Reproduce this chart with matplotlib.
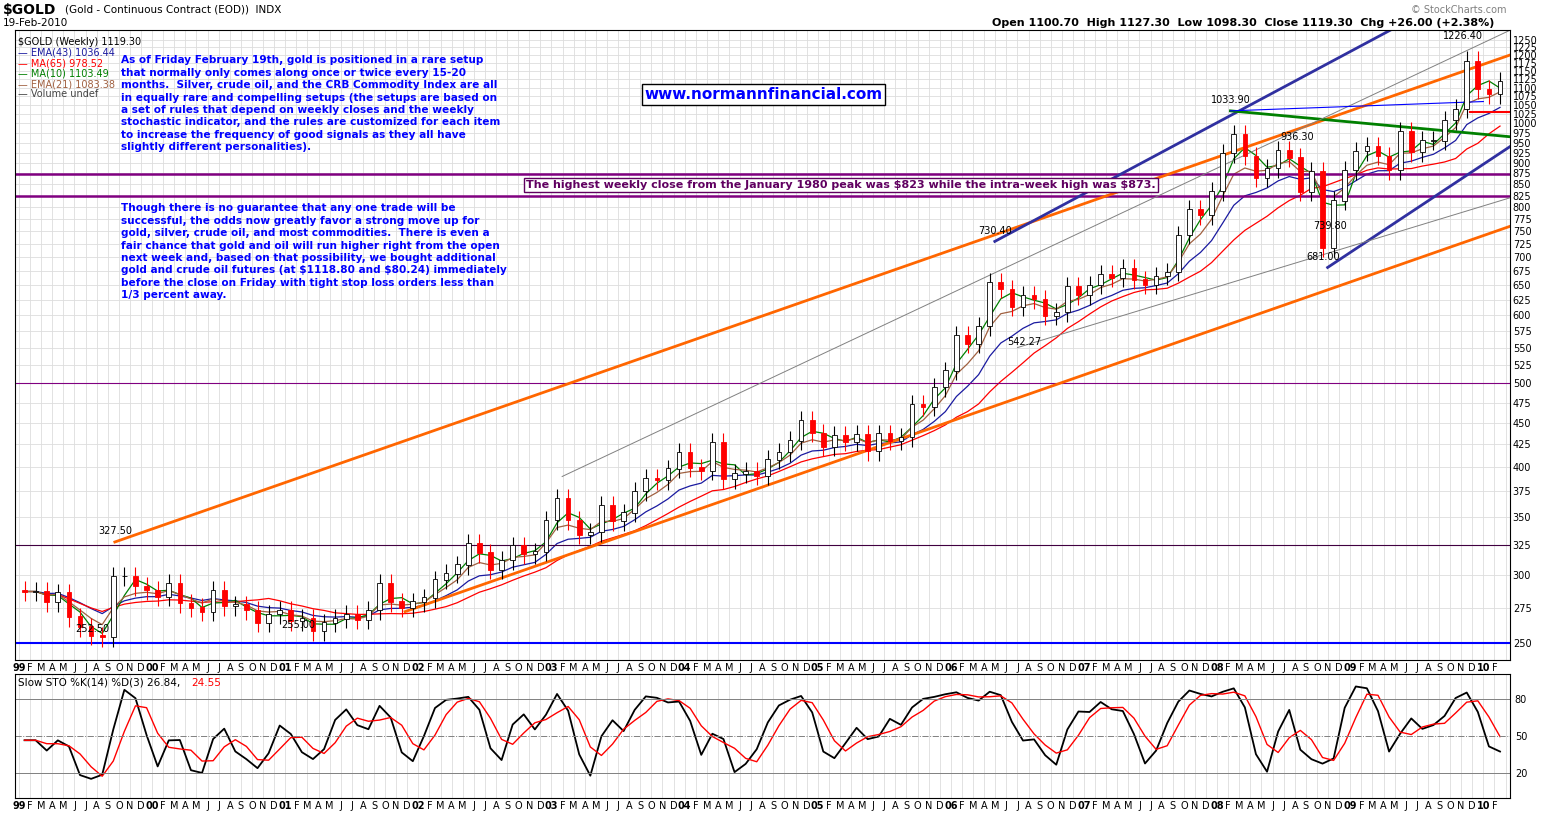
import numpy as np
import matplotlib.pyplot as plt

plt.rcParams["text.parse_math"] = False

# monthly closes of gold, Jan 1999 .. Feb 2010
closes = [287, 287, 279, 286, 268, 261, 255, 254, 299, 299, 291, 288,
          283, 293, 278, 275, 272, 288, 276, 277, 273, 264, 270, 273,
          265, 267, 258, 264, 267, 270, 266, 273, 293, 279, 275, 279,
          282, 296, 301, 308, 326, 318, 304, 312, 324, 317, 319, 347,
          368, 347, 334, 336, 361, 346, 354, 375, 388, 386, 398, 416,
          399, 396, 427, 387, 393, 395, 391, 408, 416, 429, 453, 438,
          422, 435, 428, 436, 417, 437, 429, 433, 473, 470, 495, 517,
          569, 556, 582, 654, 643, 613, 633, 626, 599, 604, 648, 632,
          650, 669, 663, 680, 659, 650, 666, 673, 743, 795, 783, 834,
          923, 972, 917, 865, 887, 930, 913, 833, 880, 718, 814, 882,
          928, 942, 917, 883, 979, 926, 955, 955, 1008, 1040, 1182, 1096,
          1081, 1119]
opens = [288] + closes[:-1]
x = 1999 + np.arange(len(closes)) / 12 + 1 / 24
closes = np.array(closes, float)
opens = np.array(opens, float)
highs = np.maximum(opens, closes) * 1.025
lows = np.minimum(opens, closes) * 0.975

price_ticks = list(range(250, 1251, 25))
month_letters = list("JFMAMJJASOND")


def ema(v, n):
    out = [v[0]]
    a = 2 / (n + 1)
    for p in v[1:]:
        out.append(out[-1] + a * (p - out[-1]))
    return np.array(out)


def sma(v, n):
    return np.array([v[max(0, i - n + 1):i + 1].mean() for i in range(len(v))])


fig = plt.figure(figsize=(15.5, 8.17), dpi=100)
ax = fig.add_axes([15 / 1550, 0.192, 1495 / 1550, 0.771])
ax2 = fig.add_axes([15 / 1550, 0.023, 1495 / 1550, 0.152])

ax.set_yscale("log")
ax.set_ylim(239, 1282)
ax.set_xlim(1998.97, 2010.2)
for p in price_ticks:
    ax.axhline(p, color="#dddddd", lw=0.6, zorder=0)
for yr in range(1999, 2011):
    for m in range(12):
        ax.axvline(yr + m / 12, color="#dddddd", lw=0.6, zorder=0)
        ax2.axvline(yr + m / 12, color="#dddddd", lw=0.6, zorder=0)

ax.yaxis.tick_right()
ax.set_yticks(price_ticks)
ax.set_yticklabels([str(p) for p in price_ticks], fontsize=7)
ax.minorticks_off()
ax.tick_params(axis="y", length=0, pad=2)

# candles
for xi, o, c, h, l in zip(x, opens, closes, highs, lows):
    col = "black" if c >= o else "red"
    ax.vlines(xi, l, h, color=col, lw=0.8, zorder=3)
    ax.bar(xi, abs(c - o) + 0.5, bottom=min(o, c), width=0.035,
           color="white" if c >= o else "red", edgecolor=col, lw=0.6, zorder=4)

ax.plot(x, ema(closes, 10), color="#1a1aa0", lw=0.9, zorder=2)
ax.plot(x, sma(closes, 15), color="red", lw=0.9, zorder=2)
ax.plot(x, sma(closes, 3), color="green", lw=0.9, zorder=2)
ax.plot(x, ema(closes, 5), color="#a06040", lw=0.9, zorder=2)

# horizontal lines
ax.axhline(250, color="blue", lw=1.5)
ax.axhline(325, color="#400040", lw=0.8)
ax.axhline(500, color="purple", lw=0.8)
ax.axhline(823, color="purple", lw=1.8)
ax.axhline(873, color="purple", lw=1.8)
ax.plot([2009.9, 2010.2], [1030, 1030], color="red", lw=1.5)

# trendlines
ax.plot([1999.72, 2010.2], [327.5, 1200], color="#ff6600", lw=2)
ax.plot([2001.9, 2010.2], [272, 760], color="#ff6600", lw=2)
ax.plot([2006.33, 2009.3], [730, 1282], color="#3030a0", lw=2)
ax.plot([2008.83, 2010.2], [681, 940], color="#3030a0", lw=2)
ax.plot([2008.1, 2010.2], [1034, 965], color="green", lw=2)
ax.plot([2003.08, 2010.2], [390, 1282], color="gray", lw=0.7)
ax.plot([2006.5, 2010.2], [550, 820], color="gray", lw=0.7)
ax.plot([2008.1, 2010.0], [1034, 1060], color="blue", lw=0.8)

labels = [(1999.72, 327.5, "327.50"), (1999.55, 252.5, "252.50"),
          (2001.1, 255, "255.00"), (2006.33, 730.4, "730.40"),
          (2006.55, 542.27, "542.27"), (2008.1, 1033.9, "1033.90"),
          (2008.6, 936.3, "936.30"), (2008.85, 739.8, "739.80"),
          (2008.8, 681, "681.00"), (2009.85, 1226.4, "1226.40")]
for lx, ly, t in labels:
    ax.text(lx, ly * 1.015, t, fontsize=7, ha="center", va="bottom", zorder=6)

ax.text(0.342, 0.754, "The highest weekly close from the January 1980 peak was $823 while the intra-week high was $873.",
        transform=ax.transAxes, fontsize=8, color="#600060", fontweight="bold", va="center",
        bbox=dict(facecolor="white", edgecolor="#600060", pad=1.5), zorder=7)
ax.text(0.421, 0.898, "www.normannfinancial.com", transform=ax.transAxes, fontsize=11,
        color="blue", fontweight="bold", va="center",
        bbox=dict(facecolor="white", edgecolor="black", pad=2), zorder=7)
t1 = ("As of Friday February 19th, gold is positioned in a rare setup\n"
      "that normally only comes along once or twice every 15-20\n"
      "months.  Silver, crude oil, and the CRB Commodity Index are all\n"
      "in equally rare and compelling setups (the setups are based on\n"
      "a set of rules that depend on weekly closes and the weekly\n"
      "stochastic indicator, and the rules are customized for each item\n"
      "to increase the frequency of good signals as they all have\n"
      "slightly different personalities).")
t2 = ("Though there is no guarantee that any one trade will be\n"
      "successful, the odds now greatly favor a strong move up for\n"
      "gold, silver, crude oil, and most commodities.  There is even a\n"
      "fair chance that gold and oil will run higher right from the open\n"
      "next week and, based on that possibility, we bought additional\n"
      "gold and crude oil futures (at $1118.80 and $80.24) immediately\n"
      "before the close on Friday with tight stop loss orders less than\n"
      "1/3 percent away.")
ax.text(0.071, 0.96, t1, transform=ax.transAxes, fontsize=7.6, color="blue",
        fontweight="bold", va="top", linespacing=1.3)
ax.text(0.071, 0.725, t2, transform=ax.transAxes, fontsize=7.6, color="blue",
        fontweight="bold", va="top", linespacing=1.3)

legend = [("EMA(43) 1036.44", "#1a1aa0"), ("MA(65) 978.52", "red"),
          ("MA(10) 1103.49", "green"), ("EMA(21) 1083.38", "#a06040"),
          ("Volume undef", "#444444")]
ax.text(0.002, 0.99, "$GOLD (Weekly) 1119.30", transform=ax.transAxes, fontsize=7, va="top")
for i, (t, c) in enumerate(legend):
    ax.text(0.002, 0.972 - i * 0.0165, "— " + t, transform=ax.transAxes, fontsize=7,
            color=c, va="top")

fig.text(0.002, 0.996, "$GOLD", fontsize=10, fontweight="bold", va="top")
fig.text(0.042, 0.994, "(Gold - Continuous Contract (EOD))  INDX", fontsize=7.5, va="top")
fig.text(0.002, 0.978, "19-Feb-2010", fontsize=7.5, va="top")
fig.text(0.964, 0.978, "Open 1100.70  High 1127.30  Low 1098.30  Close 1119.30  Chg +26.00 (+2.38%)",
         fontsize=8, fontweight="bold", va="top", ha="right")
fig.text(0.972, 0.994, "© StockCharts.com", fontsize=7, color="gray", va="top", ha="right")

# month labels
ticks, tl = [], []
for yr in range(1999, 2011):
    for m in range(12):
        if yr == 2010 and m > 1:
            break
        ticks.append(yr + m / 12)
        tl.append(("%02d" % (yr % 100)) if m == 0 else month_letters[m])
for a in (ax, ax2):
    a.set_xticks(ticks)
    a.set_xticklabels(tl, fontsize=7)
    a.tick_params(axis="x", length=0, pad=2)
    for lab in a.get_xticklabels():
        if len(lab.get_text()) == 2:
            lab.set_fontweight("bold")

# stochastics
n = 3
k_raw = []
for i in range(len(closes)):
    lo = lows[max(0, i - n + 1):i + 1].min()
    hi = highs[max(0, i - n + 1):i + 1].max()
    k_raw.append(100 * (closes[i] - lo) / (hi - lo))
k = sma(np.array(k_raw), 2)
d = sma(k, 3)
ax2.plot(x, k, color="black", lw=1.3)
ax2.plot(x, d, color="red", lw=1)
ax2.set_xlim(ax.get_xlim())
ax2.set_ylim(0, 100)
ax2.yaxis.tick_right()
ax2.set_yticks([20, 50, 80])
ax2.set_yticklabels(["20", "50", "80"], fontsize=7)
ax2.tick_params(axis="y", length=0)
for lv in (20, 80):
    ax2.axhline(lv, color="gray", lw=0.7)
ax2.axhline(50, color="gray", lw=0.7, ls="-.")
ax2.text(0.002, 0.97, "Slow STO %K(14) %D(3) 26.84,", transform=ax2.transAxes, fontsize=7.5, va="top")
ax2.text(0.118, 0.97, "24.55", transform=ax2.transAxes, fontsize=7.5, va="top", color="red")

fig.savefig("out.png", dpi=100)
